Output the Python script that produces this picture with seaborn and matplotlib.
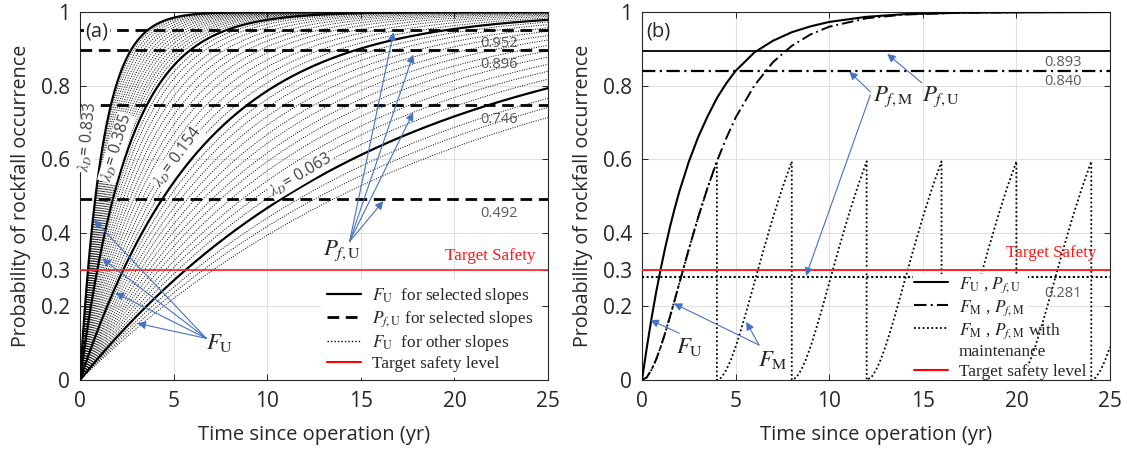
import numpy as np
import pandas as pd
import matplotlib
matplotlib.use("Agg")
import matplotlib.pyplot as plt
import seaborn as sns
from matplotlib.lines import Line2D
from matplotlib.patches import Rectangle

# ---------------- panel (a): unmaintained slopes ----------------
# annual rockfall rates of the highlighted slopes and of the remaining slopes
SELECTED_RATES = [0.833, 0.385, 0.154, 0.063]
SELECTED_RATE_LABELS = ["0.833", "0.385", "0.154", "0.063"]
OTHER_RATES = [0.050, 0.054, 0.058,
               0.068, 0.073, 0.078, 0.084, 0.090, 0.096, 0.103, 0.110,
               0.118, 0.126, 0.135, 0.144,
               0.165, 0.177, 0.190, 0.204, 0.220, 0.236, 0.254, 0.273,
               0.294, 0.316, 0.340, 0.362,
               0.405, 0.425, 0.445, 0.465, 0.490, 0.515, 0.540, 0.570,
               0.600, 0.635, 0.670, 0.710, 0.750, 0.790]
PF_U_SELECTED = [0.952, 0.896, 0.746, 0.492]
TARGET_SAFETY = 0.3

# ---------------- panel (b): one slope, with / without maintenance ----------------
TIME_B = [0, 0.25, 0.5, 0.75, 1, 1.25, 1.5, 1.75, 2, 2.5, 3, 3.5, 4,
          4.5, 5, 6, 7, 8, 9, 10, 12, 14, 17, 20, 25]
F_U_B = [0, 0.086, 0.165, 0.237, 0.302, 0.362, 0.417, 0.467, 0.513, 0.593,
         0.660, 0.716, 0.766, 0.806, 0.840, 0.890, 0.922, 0.945, 0.961, 0.973,
         0.987, 0.994, 0.998, 0.999, 1.0]
F_M_B = [0, 0.007, 0.027, 0.055, 0.090, 0.130, 0.173, 0.218, 0.264, 0.355,
         0.442, 0.522, 0.594, 0.657, 0.713, 0.800, 0.864, 0.908, 0.939, 0.960,
         0.983, 0.993, 0.998, 0.9995, 1.0]
MAINTENANCE_INTERVAL = 4
PF_U_B = 0.893
PF_M_B = 0.840
PF_M_MAINT = 0.281

# ---------------- style ----------------
sns.set_style("ticks")
plt.rcParams["font.family"] = ["Open Sans", "DejaVu Sans"]
plt.rcParams["mathtext.fontset"] = "stix"
INK = "#262626"
GRID = "#E0E0E0"
BLUE = "#4472C4"
SERIF = ["Liberation Serif", "DejaVu Serif"]
DOT = (0, (1, 1.5))
DASH = (0, (4.2, 2.4))
DASHDOT = (0, (6, 2, 1, 2))

fig = plt.figure(figsize=(11.27, 4.49), dpi=100)
ax_a = fig.add_axes([80 / 1127, 69 / 449, 468 / 1127, 368 / 449])
ax_b = fig.add_axes([642 / 1127, 69 / 449, 468 / 1127, 368 / 449])


def style_axes(ax, tag):
    ax.set_xlim(0, 25)
    ax.set_ylim(0, 1)
    ax.set_xticks([0, 5, 10, 15, 20, 25])
    ax.set_yticks([0, 0.2, 0.3, 0.4, 0.6, 0.8, 1])
    ax.set_yticklabels(["0", "0.2", "0.3", "0.4", "0.6", "0.8", "1"])
    ax.tick_params(direction="in", length=4, width=0.7, colors=INK,
                   labelsize=15, top=True, right=True)
    ax.tick_params(axis="y", pad=7)
    ax.tick_params(axis="x", pad=8)
    ax.grid(True, color=GRID, lw=0.8)
    ax.set_axisbelow(True)
    for s in ax.spines.values():
        s.set_color(INK)
        s.set_linewidth(0.8)
        s.set_visible(True)
    ax.set_xlabel("Time since operation (yr)", fontsize=14.5, color=INK, labelpad=9)
    ax.set_ylabel("Probability of rockfall occurrence", fontsize=14.2, color=INK, labelpad=7)
    ax.text(0.9, 0.946, tag, fontsize=14.5, color=INK, ha="center", va="center",
            zorder=7, bbox=dict(facecolor="white", edgecolor="none", pad=1.0))


def arrow(ax, start, end):
    ax.annotate("", xy=end, xytext=start, zorder=6,
                arrowprops=dict(arrowstyle="-|>", color=BLUE, lw=0.8,
                                mutation_scale=12, shrinkA=0, shrinkB=0))


# ---------------- panel (a) ----------------
t_fine = np.linspace(0, 25, 501)
other = pd.DataFrame(
    [(i, t, 1 - np.exp(-r * t)) for i, r in enumerate(OTHER_RATES) for t in t_fine],
    columns=["slope", "t", "F"])
sns.lineplot(data=other, x="t", y="F", units="slope", estimator=None,
             color="black", lw=0.7, linestyle=DOT, ax=ax_a, zorder=2)

for r in SELECTED_RATES:
    sel = pd.DataFrame({"t": t_fine, "F": 1 - np.exp(-r * t_fine)})
    sns.lineplot(data=sel, x="t", y="F", color="black", lw=1.6, ax=ax_a, zorder=3)

for p in PF_U_SELECTED:
    ax_a.axhline(p, color="black", lw=2.0, ls=DASH, zorder=3)
    ax_a.text(22.4, p - 0.018, f"{p:.3f}", fontsize=10.5, color="#595959",
              ha="center", va="top", zorder=4)

ax_a.axhline(TARGET_SAFETY, color="#FF2020", lw=1.2, zorder=3)
ax_a.text(21.9, 0.338, "Target Safety", color="#FF1A1A", fontsize=12.2,
          family=SERIF, ha="center", va="center")

# rate labels along the highlighted curves
for (x, y, rot), lab in zip([(0.42, 0.66, 84), (1.95, 0.63, 73),
                             (5.2, 0.605, 54), (11.8, 0.557, 31)],
                            SELECTED_RATE_LABELS):
    ax_a.text(x, y, r"$\lambda_D$= " + lab, rotation=rot, rotation_mode="anchor",
              ha="center", va="center", fontsize=11.3, color="#404040", zorder=5,
              bbox=dict(facecolor="white", edgecolor="none", pad=0.3))

for end in [(0.75, 0.435), (1.19, 0.33), (1.9, 0.237), (3.07, 0.154)]:
    arrow(ax_a, (6.75, 0.113), end)
ax_a.text(7.45, 0.10, r"$F_\mathrm{U}$", fontsize=16.5, ha="center", va="center")

for end in [(16.75, 0.945), (17.8, 0.884), (17.8, 0.727), (16.2, 0.486)]:
    arrow(ax_a, (14.4, 0.376), end)
ax_a.text(14.0, 0.352, r"$P_{f,\mathrm{U}}$", fontsize=16.5, ha="center", va="center")

handles_a = [Line2D([], [], color="black", lw=1.6),
             Line2D([], [], color="black", lw=2.0, ls=DASH),
             Line2D([], [], color="black", lw=1.0, ls=DOT),
             Line2D([], [], color="red", lw=1.5)]
labels_a = [r"$F_\mathrm{U}$  for selected slopes",
            r"$P_{f,\mathrm{U}}$ for selected slopes",
            r"$F_\mathrm{U}$  for other slopes",
            "Target safety level"]
leg = ax_a.legend(handles_a, labels_a, loc="lower left", bbox_to_anchor=(0.515, 0.005),
                  borderaxespad=0, frameon=True, fancybox=False, framealpha=1,
                  edgecolor="none", facecolor="white", handlelength=2.0,
                  handletextpad=0.6, labelspacing=0.2, borderpad=0.35,
                  prop={"family": SERIF, "size": 12.4})
leg.set_zorder(6)
style_axes(ax_a, "(a)")

# ---------------- panel (b) ----------------
df_b = pd.DataFrame({"t": TIME_B, "FU": F_U_B, "FM": F_M_B})
sns.lineplot(data=df_b, x="t", y="FU", color="black", lw=1.5, ax=ax_b, zorder=3)
sns.lineplot(data=df_b, x="t", y="FM", color="black", lw=1.4,
             linestyle=DASHDOT, ax=ax_b, zorder=3)

# with maintenance the unmaintained curve restarts every interval
n_cycle = TIME_B.index(MAINTENANCE_INTERVAL) + 1
saw_t, saw_f = [], []
for k in range(7):
    for t, f in zip(TIME_B[:n_cycle], F_M_B[:n_cycle]):
        tt = t + k * MAINTENANCE_INTERVAL
        if tt <= 25:
            saw_t.append(tt)
            saw_f.append(f)
saw = pd.DataFrame({"t": saw_t, "F": saw_f})
sns.lineplot(data=saw, x="t", y="F", sort=False, estimator=None, color="black",
             lw=1.3, linestyle=(0, (1, 1.4)), ax=ax_b, zorder=3)

ax_b.axhline(PF_U_B, color="black", lw=1.3, zorder=3)
ax_b.axhline(PF_M_B, color="black", lw=1.6, ls=DASHDOT, zorder=3)
ax_b.axhline(PF_M_MAINT, color="black", lw=1.5, ls=(0, (1, 1.2)), zorder=3)
ax_b.axhline(TARGET_SAFETY, color="#FF2020", lw=1.4, zorder=3)
for p, y in [(PF_U_B, 0.863), (PF_M_B, 0.81), (PF_M_MAINT, 0.236)]:
    ax_b.text(22.5, y, f"{p:.3f}", fontsize=10.5, color="#595959",
              ha="center", va="center", zorder=5)
ax_b.text(21.85, 0.344, "Target Safety", color="#FF1A1A", fontsize=12.2,
          family=SERIF, ha="center", va="center")

arrow(ax_b, (14.94, 0.808), (13.1, 0.886))
arrow(ax_b, (12.2, 0.783), (11.07, 0.838))
arrow(ax_b, (12.2, 0.775), (8.76, 0.283))
ax_b.text(13.4, 0.77, r"$P_{f,\mathrm{M}}$", fontsize=16.5, ha="center", va="center")
ax_b.text(15.95, 0.77, r"$P_{f,\mathrm{U}}$", fontsize=16.5, ha="center", va="center")

arrow(ax_b, (1.99, 0.127), (0.45, 0.163))
ax_b.text(2.56, 0.09, r"$F_\mathrm{U}$", fontsize=16.5, ha="center", va="center")
arrow(ax_b, (6.25, 0.095), (1.7, 0.208))
arrow(ax_b, (6.25, 0.095), (5.57, 0.158))
ax_b.text(7.0, 0.054, r"$F_\mathrm{M}$", fontsize=16.5, ha="center", va="center")

# white patch behind the left part of the legend
ax_b.add_patch(Rectangle((0.58, 0.0), 0.245, 0.288, transform=ax_b.transAxes,
                         facecolor="white", edgecolor="none", zorder=4))
handles_b = [Line2D([], [], color="black", lw=1.5),
             Line2D([], [], color="black", lw=1.5, ls=DASHDOT),
             Line2D([], [], color="black", lw=1.3, ls=(0, (1, 1.4))),
             Line2D([], [], color="none"),
             Line2D([], [], color="red", lw=1.5)]
labels_b = [r"$F_\mathrm{U}$ , $P_{f,\mathrm{U}}$",
            r"$F_\mathrm{M}$ , $P_{f,\mathrm{M}}$",
            r"$F_\mathrm{M}$ , $P_{f,\mathrm{M}}$ with",
            "maintenance",
            "Target safety level"]
leg_b = ax_b.legend(handles_b, labels_b, loc="lower left", bbox_to_anchor=(0.568, -0.016),
                    borderaxespad=0, frameon=False, handlelength=2.0,
                    handletextpad=0.6, labelspacing=0.2, borderpad=0.35,
                    prop={"family": SERIF, "size": 12.4})
leg_b.set_zorder(6)
style_axes(ax_b, "(b)")

fig.savefig("out.png", dpi=100)
